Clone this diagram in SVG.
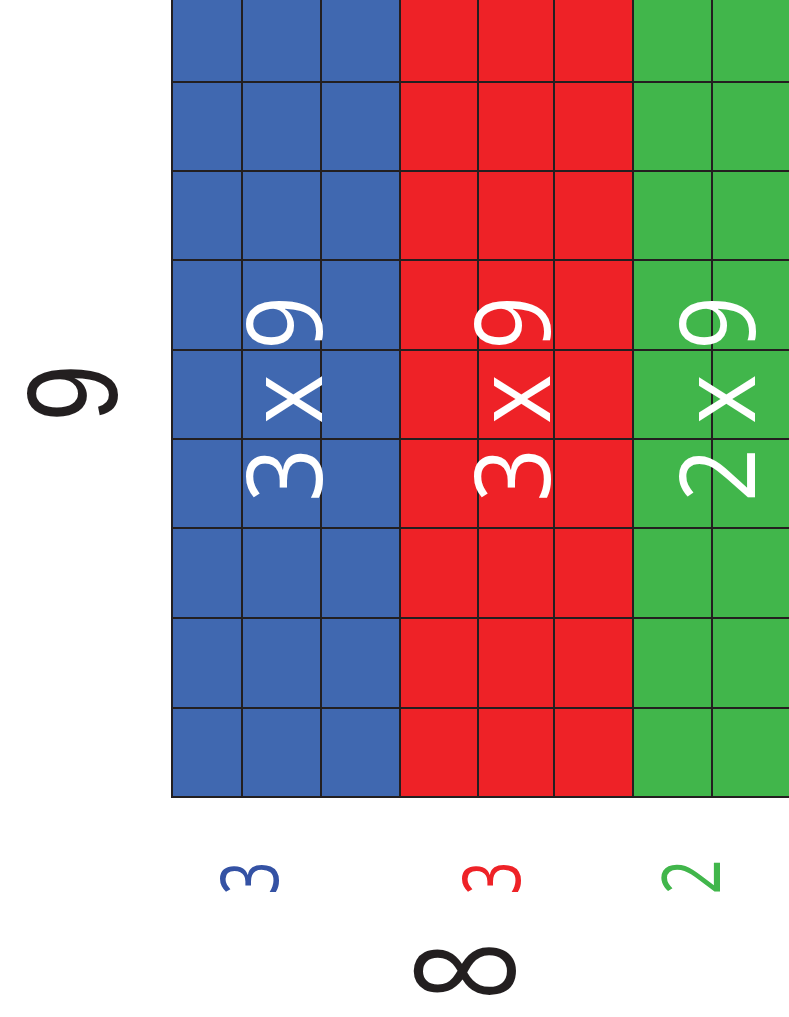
<svg xmlns="http://www.w3.org/2000/svg" width="789" height="1017" viewBox="0 0 789 1017">
<style>
.grid{stroke:#231F20;stroke-width:2;fill:none}
.t{font-family:"Open Sans","DejaVu Sans",sans-serif;font-weight:400;text-anchor:middle}
.w{fill:#FFFFFF}
.k{fill:#231F20;font-weight:400}
</style>
<rect width="789" height="1017" fill="#FFFFFF"/>
<g id="grid-blocks">
<rect x="172" y="-5" width="228" height="802" fill="#4068B0"/>
<rect x="400" y="-5" width="233" height="802" fill="#EE2227"/>
<rect x="633" y="-5" width="160" height="802" fill="#41B64B"/>
</g>
<g id="grid-lines" class="grid">
<path d="M172,-5V797H795"/>
<path d="M242,-5V797M321,-5V797M400,-5V797M478,-5V797M554,-5V797M633,-5V797M712,-5V797"/>
<path d="M172,82H795M172,171H795M172,260H795M172,350H795M172,439H795M172,528H795M172,618H795M172,708H795"/>
</g>
<g id="label-9" class="t k">
<text transform="translate(117,393) rotate(-90)" font-family="Liberation Sans, Arial, sans-serif" font-size="128" textLength="57" lengthAdjust="spacingAndGlyphs">9</text>
</g>
<g id="label-blue" class="t w">
<text transform="translate(322,399) rotate(-90)" font-size="104" textLength="206" lengthAdjust="spacingAndGlyphs">3 x 9</text>
</g>
<g id="label-red" class="t w">
<text transform="translate(550,399) rotate(-90)" font-size="104" textLength="206" lengthAdjust="spacingAndGlyphs">3 x 9</text>
</g>
<g id="label-green" class="t w">
<text transform="translate(755,399) rotate(-90)" font-size="104" textLength="206" lengthAdjust="spacingAndGlyphs">2 x 9</text>
</g>
<g id="bottom-3-blue" class="t">
<text transform="translate(278,878) rotate(-90)" font-size="80" fill="#3452A4" textLength="33" lengthAdjust="spacingAndGlyphs">3</text>
</g>
<g id="bottom-3-red" class="t">
<text transform="translate(520,878) rotate(-90)" font-size="80" fill="#EE2227" textLength="33" lengthAdjust="spacingAndGlyphs">3</text>
</g>
<g id="bottom-2-green" class="t">
<text transform="translate(720,877) rotate(-90)" font-size="80" fill="#41B64B" textLength="35" lengthAdjust="spacingAndGlyphs">2</text>
</g>
<g id="bottom-8" class="t k">
<text transform="translate(515,971) rotate(-90)" font-size="140" textLength="58" lengthAdjust="spacingAndGlyphs">8</text>
</g>
</svg>
